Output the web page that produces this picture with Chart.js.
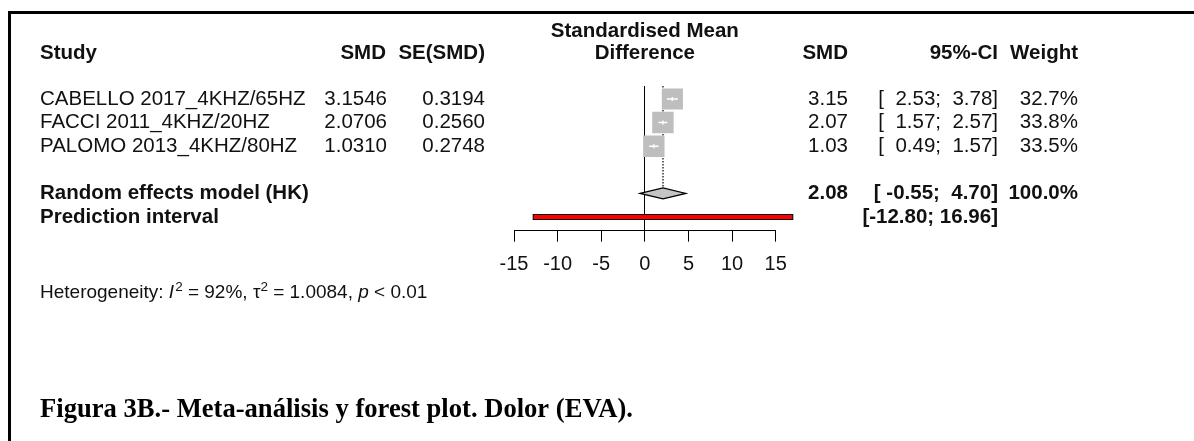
<!DOCTYPE html>
<html>
<head>
<meta charset="utf-8">
<script src="https://cdn.jsdelivr.net/npm/chart.js@4.4.1/dist/chart.umd.min.js"></script>
<style>
  html, body { margin: 0; padding: 0; background: #fff; overflow: hidden; }
  #wrap { position: relative; width: 1194px; height: 441px; }
</style>
</head>
<body>
<div id="wrap"><canvas id="forest" width="1194" height="441"></canvas></div>
<script>
// Study-level data
const studies = ["CABELLO 2017_4KHZ/65HZ", "FACCI 2011_4KHZ/20HZ", "PALOMO 2013_4KHZ/80HZ"];
const smd = [3.1546, 2.0706, 1.0310];
const seSmd = [0.3194, 0.2560, 0.2748];
const ciLow = [2.53, 1.57, 0.49];
const ciHigh = [3.78, 2.57, 1.57];
const weights = [32.7, 33.8, 33.5];

// Pooled estimate (random effects, Hartung-Knapp) and prediction interval
const pooled = [2.08, -0.55, 4.70];      // estimate, lower, upper
const predInterval = [-12.80, 16.96];   // lower, upper

// Heterogeneity statistics
const heterogeneity = ["92%", "1.0084", "< 0.01"]; // I^2, tau^2, p

// Axis ticks
const xTicks = [-15, -10, -5, 0, 5, 10, 15];

const SANS = '"Liberation Sans", Arial, sans-serif';
const SERIF = '"Liberation Serif", "Times New Roman", serif';
const INK = '#111';
const GREY = '#bebebe';

// row indices on the y scale
const studyRows = studies.map((_, i) => i + 1);
const pooledRow = 5;
const predRow = 6;

function padLeft(s, n) { while (s.length < n) s = ' ' + s; return s; }
function ciText(lo, hi) {
  return '[' + padLeft(lo.toFixed(2), 6) + '; ' + padLeft(hi.toFixed(2), 5) + ']';
}

const maxW = Math.max(...weights);
const squareRadius = weights.map(w => 15.2 * Math.sqrt(w / maxW));

const forestPlugin = {
  id: 'forestExtras',
  beforeDatasetsDraw(chart) {
    const { ctx, scales: { x, y }, chartArea } = chart;
    // dotted reference line at the pooled estimate
    ctx.save();
    ctx.strokeStyle = '#333';
    ctx.lineWidth = 1.5;
    ctx.setLineDash([1.5, 1.5]);
    ctx.beginPath();
    const px = x.getPixelForValue(pooled[0]);
    ctx.moveTo(px, chartArea.top);
    ctx.lineTo(px, y.getPixelForValue(pooledRow) - 5.5);
    ctx.stroke();
    ctx.restore();
  },
  afterDatasetsDraw(chart) {
    const { ctx, scales: { x, y } } = chart;
    ctx.save();
    // confidence intervals drawn inside the squares
    ctx.strokeStyle = '#fff';
    ctx.lineWidth = 1.5;
    studies.forEach((_, i) => {
      const py = y.getPixelForValue(studyRows[i]);
      const pm = x.getPixelForValue(smd[i]);
      ctx.beginPath();
      ctx.moveTo(x.getPixelForValue(ciLow[i]), py);
      ctx.lineTo(x.getPixelForValue(ciHigh[i]), py);
      ctx.moveTo(pm, py - 2);
      ctx.lineTo(pm, py + 2);
      ctx.stroke();
    });
    // pooled diamond
    const dy = y.getPixelForValue(pooledRow);
    ctx.beginPath();
    ctx.moveTo(x.getPixelForValue(pooled[1]), dy);
    ctx.lineTo(x.getPixelForValue(pooled[0]), dy - 5.5);
    ctx.lineTo(x.getPixelForValue(pooled[2]), dy);
    ctx.lineTo(x.getPixelForValue(pooled[0]), dy + 5.5);
    ctx.closePath();
    ctx.fillStyle = '#c4c4c4';
    ctx.fill();
    ctx.strokeStyle = '#000';
    ctx.lineWidth = 1.2;
    ctx.stroke();
    // prediction interval bar
    const by = y.getPixelForValue(predRow);
    const bx0 = x.getPixelForValue(predInterval[0]);
    const bx1 = x.getPixelForValue(predInterval[1]);
    ctx.fillStyle = '#ff0000';
    ctx.fillRect(bx0, by - 2.5, bx1 - bx0, 5);
    ctx.lineWidth = 1;
    ctx.strokeRect(bx0, by - 2.5, bx1 - bx0, 5);
    ctx.restore();
  },
  afterDraw(chart) {
    const { ctx, scales: { x, y } } = chart;
    const rowY = r => y.getPixelForValue(r);
    const text = (s, px, py, align, bold) => {
      ctx.font = (bold ? 'bold ' : '') + '20.5px ' + SANS;
      ctx.textAlign = align;
      ctx.fillText(s, px, py);
    };
    ctx.save();
    ctx.fillStyle = INK;
    ctx.textBaseline = 'middle';

    // column headers
    const centre = x.getPixelForValue(0);
    const h1 = rowY(-1.88), h2 = rowY(-0.92);
    text('Standardised Mean', centre, h1, 'center', true);
    text('Difference', centre, h2, 'center', true);
    text('Study', 40, h2, 'left', true);
    text('SMD', 386, h2, 'right', true);
    text('SE(SMD)', 485, h2, 'right', true);
    text('SMD', 848, h2, 'right', true);
    text('95%-CI', 998, h2, 'right', true);
    text('Weight', 1078, h2, 'right', true);

    // study rows
    studies.forEach((name, i) => {
      const py = rowY(studyRows[i]);
      text(name, 40, py, 'left', false);
      text(smd[i].toFixed(4), 387, py, 'right', false);
      text(seSmd[i].toFixed(4), 485, py, 'right', false);
      text(smd[i].toFixed(2), 848, py, 'right', false);
      text(ciText(ciLow[i], ciHigh[i]), 998, py, 'right', false);
      text(weights[i].toFixed(1) + '%', 1078, py, 'right', false);
    });

    // pooled row
    const totalW = weights.reduce((a, b) => a + b, 0);
    text('Random effects model (HK)', 40, rowY(pooledRow), 'left', true);
    text(pooled[0].toFixed(2), 848, rowY(pooledRow), 'right', true);
    text(ciText(pooled[1], pooled[2]), 998, rowY(pooledRow), 'right', true);
    text(totalW.toFixed(1) + '%', 1078, rowY(pooledRow), 'right', true);

    // prediction interval row
    text('Prediction interval', 40, rowY(predRow), 'left', true);
    text('[' + predInterval[0].toFixed(2) + '; ' + predInterval[1].toFixed(2) + ']', 998, rowY(predRow), 'right', true);

    // heterogeneity line with italic symbols and superscripts
    ctx.textAlign = 'left';
    ctx.textBaseline = 'alphabetic';
    let hx = 40;
    const hy = 298;
    const seg = (s, font, dy) => {
      ctx.font = font;
      ctx.fillText(s, hx, hy + (dy || 0));
      hx += ctx.measureText(s).width;
    };
    const reg = '19px ' + SANS, ital = 'italic 19px ' + SANS, sup = '13.5px ' + SANS;
    seg('Heterogeneity: ', reg);
    seg('I', ital);
    hx += 1;
    seg('2', sup, -7.5);
    seg(' = ' + heterogeneity[0] + ', ', reg);
    seg('\u03C4', reg);
    seg('2', sup, -7.5);
    seg(' = ' + heterogeneity[1] + ', ', reg);
    seg('p', ital);
    seg(' ' + heterogeneity[2], reg);

    // figure caption
    ctx.font = 'bold 26.6px ' + SERIF;
    ctx.fillStyle = '#000';
    ctx.fillText('Figura 3B.- Meta-análisis y forest plot. Dolor (EVA).', 40, 417);

    // frame
    ctx.fillRect(8, 11, 3, 430);
    ctx.fillRect(8, 11, 1186, 3);
    ctx.restore();
  }
};

new Chart(document.getElementById('forest'), {
  type: 'scatter',
  data: {
    datasets: [{
      label: 'SMD',
      data: studies.map((_, i) => ({ x: smd[i], y: studyRows[i] })),
      pointStyle: 'rect',
      pointRadius: squareRadius,
      pointHoverRadius: squareRadius,
      backgroundColor: GREY,
      borderColor: GREY,
      borderWidth: 0
    }]
  },
  options: {
    responsive: false,
    animation: false,
    devicePixelRatio: 1,
    events: [],
    layout: { padding: { left: 514, right: 418.3, top: 86, bottom: 160.3 } },
    plugins: { legend: { display: false }, tooltip: { enabled: false } },
    scales: {
      x: {
        type: 'linear',
        min: -15,
        max: 15,
        afterBuildTicks: s => { s.ticks = xTicks.map(v => ({ value: v })); },
        afterFit: s => { s.height = 50; },
        border: { display: true, color: '#000', width: 1 },
        grid: {
          drawOnChartArea: true,
          color: c => (c.tick && c.tick.value === 0 ? '#000' : 'rgba(0,0,0,0)'),
          tickColor: '#000',
          tickLength: 11,
          lineWidth: 1
        },
        ticks: {
          color: INK,
          padding: 11,
          maxRotation: 0,
          font: { family: SANS, size: 20 }
        }
      },
      y: {
        type: 'linear',
        display: false,
        reverse: true,
        min: 0.45,
        max: 6.58
      }
    }
  },
  plugins: [forestPlugin]
});
</script>
</body>
</html>
